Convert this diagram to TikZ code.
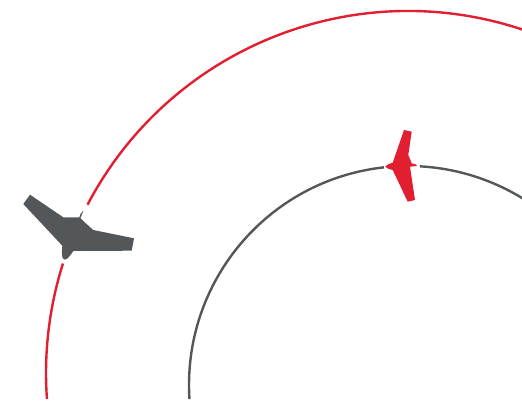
\documentclass[tikz,border=0pt]{standalone}
\definecolor{dronered}{HTML}{E11F30}
\definecolor{dronegray}{HTML}{54575A}
\tikzset{
  orbit/.style={line width=2.4pt},
}
\begin{document}
\begin{tikzpicture}[x=1pt,y=1pt]
\useasboundingbox (0,0) rectangle (522,400);
\clip (0,0) rectangle (522,400);
% red orbit, centre (408,373) in image coordinates
\begin{scope}[shift={(408,27)}]
\draw[orbit,dronered] (184.1:362) arc[start angle=184.1,end angle=162.4,radius=362];
\draw[orbit,dronered] (152.3:362) arc[start angle=152.3,end angle=70,radius=362];
\end{scope}
% grey orbit, centre (408,385) in image coordinates
\begin{scope}[shift={(408,15)}]
\draw[orbit,dronegray] (183.7:219) arc[start angle=183.7,end angle=96.3,radius=219];
\draw[orbit,dronegray] (86.9:219) arc[start angle=86.9,end angle=57,radius=219];
\end{scope}
% drones, in image coordinates (y downwards)
\begin{scope}[yscale=-1,yshift=-400pt]
\fill[dronegray] (30,194.7) -- (23.3,204) -- (62.3,245.7)
  .. controls (62,251) and (61.5,255) .. (62.7,258.3)
  .. controls (64,260.5) and (66,260) .. (68,258)
  .. controls (70,256) and (72,253) .. (73.3,251)
  -- (131.7,250.7) -- (134,238.3) -- (93.3,230) -- (84,221.7)
  -- (80.5,218) -- (83.5,210.5) .. controls (81,212.5) and (79.8,215) .. (79.3,217.3)
  -- (63.3,217.3) -- cycle;
\fill[dronered] (404,130) -- (411.7,131.7) -- (408.3,155) -- (411.7,163.3)
  -- (416.7,164.7) -- (416.7,166) -- (410,166.7) -- (415,200) -- (407.7,201.7)
  -- (392.7,170) .. controls (390,169.5) and (387,168.5) .. (385,166.7)
  .. controls (387,164.5) and (390,163.5) .. (392.7,162.7) -- cycle;
\end{scope}
\end{tikzpicture}
\end{document}
